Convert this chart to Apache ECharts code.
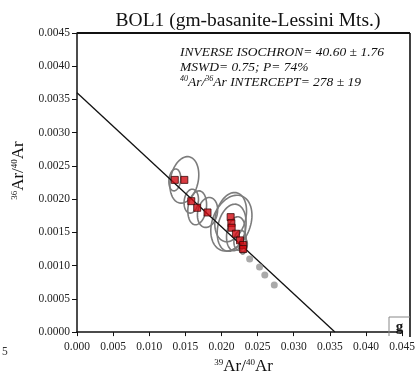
<!DOCTYPE html>
<html>
<head>
<meta charset="utf-8">
<script src="https://cdn.jsdelivr.net/npm/echarts@6/dist/echarts.min.js"></script>
<style>
  html, body { margin: 0; padding: 0; background: #fff; }
  #chart { width: 418px; height: 380px; }
</style>
</head>
<body>
<div id="chart"></div>
<script>
// Step data (39Ar/40Ar, 36Ar/40Ar), included steps
const stepX = [0.01354, 0.01486, 0.01582, 0.01664, 0.01807, 0.02127, 0.02137, 0.02141, 0.02200, 0.02257, 0.02300, 0.02300];
const stepY = [0.00229, 0.00229, 0.00197, 0.00187, 0.00180, 0.00173, 0.00164, 0.00157, 0.00148, 0.00138, 0.00131, 0.00125];

// Excluded steps
const exclX = [0.02390, 0.02527, 0.02600, 0.02731];
const exclY = [0.00110, 0.00098, 0.00086, 0.00071];

// Error ellipses: half-widths in data units and error correlation
const ellRx  = [0.00082, 0.00200, 0.00100, 0.00130, 0.00140, 0.00220, 0.00285, 0.00200, 0.00130, 0.00085, 0.00058, 0.00042];
const ellRy  = [0.000165, 0.000350, 0.000180, 0.000255, 0.000225, 0.00037, 0.000420, 0.000355, 0.000255, 0.000150, 0.000105, 0.000075];
const ellRho = [0.15, 0.22, 0.15, 0.18, 0.18, 0.25, 0.28, 0.22, 0.2, 0.15, 0.15, 0.15];

// Isochron fit: end points on the two axes
const fitX = [0, 0.0357];
const fitY = [0.0036, 0];

const xTicks = ['0.000','0.005','0.010','0.015','0.020','0.025','0.030','0.035','0.040','0.045'];
const yTicks = ['0.0000','0.0005','0.0010','0.0015','0.0020','0.0025','0.0030','0.0035','0.0040','0.0045'];

const titleText = 'BOL1 (gm-basanite-Lessini Mts.)';
const noteLines = [
  'INVERSE ISOCHRON= 40.60 \u00b1 1.76',
  'MSWD= 0.75; P= 74%',
  '{s|40}Ar/{s|36}Ar INTERCEPT= 278 \u00b1 19'
];

const SERIF = '"Liberation Serif", "DejaVu Serif", serif';

const chart = echarts.init(document.getElementById('chart'), null, { renderer: 'canvas' });

const ellipseData = stepX.map((x, i) => [x, stepY[i], ellRx[i], ellRy[i], ellRho[i]]);

// Correlated error ellipse, traced through the axis scales
function renderEllipse(params, api) {
  const cx = api.value(0), cy = api.value(1);
  const rx = api.value(2), ry = api.value(3), rho = api.value(4);
  const q = Math.sqrt(1 - rho * rho);
  const pts = [];
  const n = 72;
  for (let k = 0; k < n; k++) {
    const t = (k / n) * Math.PI * 2;
    const dx = rx * Math.cos(t);
    const dy = ry * (rho * Math.cos(t) + q * Math.sin(t));
    pts.push(api.coord([cx + dx, cy + dy]));
  }
  return {
    type: 'polygon',
    shape: { points: pts },
    style: { fill: 'none', stroke: '#7c7c7c', lineWidth: 1.6 }
  };
}

const option = {
  animation: false,
  backgroundColor: '#ffffff',
  title: {
    text: titleText,
    left: 243, top: 6, textAlign: 'center',
    textStyle: { fontFamily: SERIF, fontSize: 19.5, fontWeight: 'normal', color: '#111' }
  },
  grid: { left: 77, right: 9, top: 33, bottom: 44 },
  xAxis: {
    type: 'value', min: 0, max: 0.045, interval: 0.005,
    name: '{s|39}Ar/{s|40}Ar', nameLocation: 'middle', nameGap: 23,
    nameTextStyle: {
      fontFamily: SERIF, fontSize: 17, color: '#111', padding: [0, 0, 0, 8],
      rich: { s: { fontFamily: SERIF, fontSize: 9, verticalAlign: 'top', padding: [0, 0, 8, 0] } }
    },
    axisLine: { show: true, onZero: false, lineStyle: { color: '#111', width: 1.5 } },
    axisTick: { show: true, length: 4, lineStyle: { color: '#111' } },
    axisLabel: {
      fontFamily: SERIF, fontSize: 11.5, color: '#222', margin: 9,
      formatter: (v) => xTicks[Math.round(v / 0.005)] || ''
    },
    splitLine: { show: false }
  },
  yAxis: {
    type: 'value', min: 0, max: 0.0045, interval: 0.0005,
    name: '{s|36}Ar/{s|40}Ar', nameLocation: 'middle', nameGap: 50, nameRotate: 90,
    nameTextStyle: {
      fontFamily: SERIF, fontSize: 17, color: '#111', padding: [0, 0, 0, 24],
      rich: { s: { fontFamily: SERIF, fontSize: 9, verticalAlign: 'top', padding: [0, 0, 8, 0] } }
    },
    axisLine: { show: true, onZero: false, lineStyle: { color: '#111', width: 1.5 } },
    axisTick: { show: true, length: 5, lineStyle: { color: '#111' } },
    axisLabel: {
      fontFamily: SERIF, fontSize: 11.5, color: '#222', margin: 7,
      formatter: (v) => yTicks[Math.round(v / 0.0005)] || ''
    },
    splitLine: { show: false }
  },
  graphic: [
    // frame top and right
    { type: 'line', shape: { x1: 77, y1: 33, x2: 410, y2: 33 }, style: { stroke: '#111', lineWidth: 2 }, z: 10 },
    { type: 'line', shape: { x1: 410, y1: 33, x2: 410, y2: 337 }, style: { stroke: '#111', lineWidth: 1.6 }, z: 10 },
    // panel letter
    { type: 'polyline', shape: { points: [[389, 336], [389, 317], [410, 317]] }, style: { stroke: '#888', fill: 'none', lineWidth: 1 }, z: 10 },
    { type: 'text', x: 399.5, y: 327, style: { text: 'g', fontFamily: SERIF, fontSize: 15, fontWeight: 'bold', fill: '#111', align: 'center', verticalAlign: 'middle' }, z: 10 },
    // annotations
    {
      type: 'text', left: 180, top: 45, z: 10,
      style: {
        text: noteLines.join('\n'),
        fontFamily: SERIF, fontSize: 13.5, fontStyle: 'italic', fill: '#111', lineHeight: 15,
        rich: {
          s: { fontFamily: SERIF, fontSize: 8, fontStyle: 'italic', verticalAlign: 'top', padding: [0, 0, 6, 0] }
        }
      }
    },
    { type: 'text', x: 2, y: 346, style: { text: '5', fontFamily: SERIF, fontSize: 11.5, fill: '#333' } }
  ],
  series: [
    {
      type: 'custom',
      renderItem: renderEllipse,
      data: ellipseData,
      encode: { x: 0, y: 1 },
      clip: true,
      z: 2
    },
    {
      type: 'line',
      data: fitX.map((x, i) => [x, fitY[i]]),
      symbol: 'none',
      lineStyle: { color: '#111', width: 1.3 },
      z: 3
    },
    {
      type: 'scatter',
      data: exclX.map((x, i) => [x, exclY[i]]),
      symbol: 'circle', symbolSize: 7,
      itemStyle: { color: '#959595' },
      z: 4
    },
    {
      type: 'scatter',
      data: stepX.map((x, i) => [x, stepY[i]]),
      symbol: 'rect', symbolSize: 7,
      itemStyle: { color: '#d10a12', borderColor: '#3b0a0a', borderWidth: 1 },
      z: 5
    }
  ]
};

chart.setOption(option);
</script>
</body>
</html>
